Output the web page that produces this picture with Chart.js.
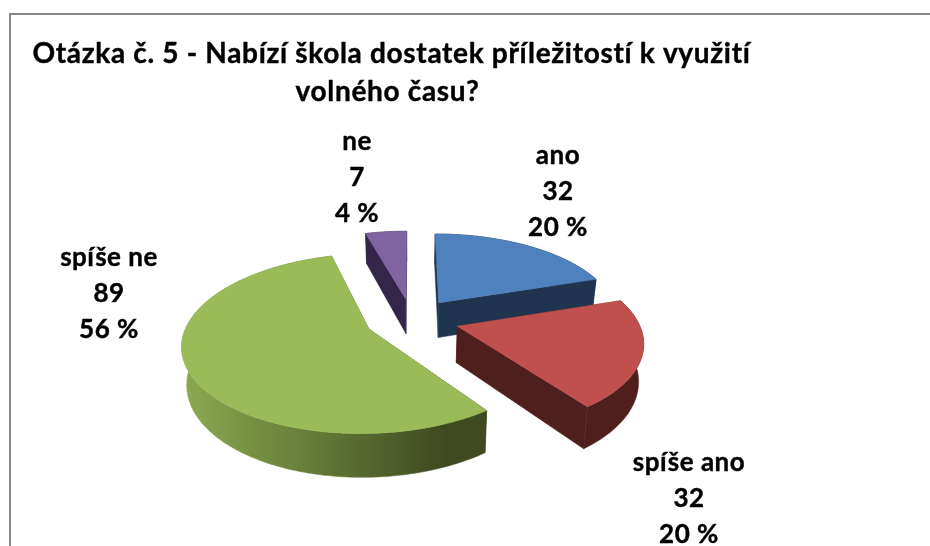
<!DOCTYPE html>
<html lang="cs">
<head>
<meta charset="utf-8">
<title>Otázka č. 5</title>
<script src="https://cdn.jsdelivr.net/npm/chart.js@4"></script>
<style>html,body{margin:0;padding:0;background:#fff}canvas{display:block}</style>
</head>
<body>
<canvas id="c" width="930" height="546"></canvas>
<script>
const categories = ['ano', 'spíše ano', 'spíše ne', 'ne'];
const values = [32, 32, 89, 7];
const colors = ['#4f81bd', '#c0504d', '#9bbb59', '#8064a2'];
const sideColors = ['#1f344f', '#4f1f1e', null, '#33264a'];
const titleLines = ['Otázka č. 5 - Nabízí škola dostatek příležitostí k využití', 'volného času?'];

const labelCenters = [[558, 156], [689, 463], [109, 258], [357, 142]];
const titleCenters = [[391.5, 54], [387.5, 92]];
const TILT = 0.457, PERSP = 0.00086, DEPTH = 36, TAPER = 0.022, LINE = 36, XSCALE = 0.975;
const FONT_T = 'bold 28px Lato, Carlito, "Open Sans", sans-serif';
const FONT_L = 'bold 26px Lato, Carlito, "Open Sans", sans-serif';

const total = values.reduce((a, b) => a + b, 0);

const pie3d = {
  id: 'pie3d',
  beforeDatasetDraw(chart) {
    const { ctx } = chart;
    const arcs = chart.getDatasetMeta(0).data;
    const order = [0, 3, 2, 1];

    ctx.save();
    ctx.fillStyle = '#868686';
    ctx.fillRect(9, 13, 921, 2);
    ctx.fillRect(9, 13, 2, 533);

    const sideGreen = ctx.createLinearGradient(187, 0, 445, 0);
    sideGreen.addColorStop(0, '#8aa850');
    sideGreen.addColorStop(1, '#3f4a20');

    order.forEach(i => {
      const a = arcs[i];
      const R = a.outerRadius, d = a.options.offset;
      const mid = (a.startAngle + a.endAngle) / 2 + Math.PI / 2;
      const ox = d * Math.sin(mid), oy = -d * Math.cos(mid);
      const project = (th, r, z) => {
        const X = ox + XSCALE * r * Math.sin(th), Y = oy - r * Math.cos(th);
        const w = 1 / (1 - PERSP * Y);
        return [a.x + X * w * (1 - TAPER * z), a.y + TILT * Y * w + DEPTH * z * w];
      };
      const t0 = a.startAngle + Math.PI / 2, t1 = a.endAngle + Math.PI / 2;
      const steps = Math.max(4, Math.round((t1 - t0) * 90));
      const rim = z => {
        const pts = [];
        for (let s = 0; s <= steps; s++) pts.push(project(t0 + (t1 - t0) * s / steps, R, z));
        return pts;
      };
      const poly = (pts, fill) => {
        ctx.beginPath();
        pts.forEach((p, k) => k ? ctx.lineTo(p[0], p[1]) : ctx.moveTo(p[0], p[1]));
        ctx.closePath();
        ctx.fillStyle = fill;
        ctx.strokeStyle = fill;
        ctx.lineWidth = 0.5;
        ctx.fill();
        ctx.stroke();
      };
      const top = rim(0), bot = rim(1);
      const side = sideColors[i] || sideGreen;
      const apexT = project(0, 0, 0), apexB = project(0, 0, 1);
      poly([apexT, top[0], bot[0], apexB], side);
      poly([apexT, top[steps], bot[steps], apexB], side);
      poly(top.concat(bot.slice().reverse()), side);
      poly([apexT].concat(top), a.options.backgroundColor);
    });

    ctx.fillStyle = '#000';
    ctx.strokeStyle = '#000';
    ctx.lineWidth = 0.4;
    ctx.textAlign = 'center';
    ctx.textBaseline = 'middle';
    const put = (t, x, y) => { ctx.fillText(t, x, y); ctx.strokeText(t, x, y); };
    ctx.font = FONT_T;
    ctx.letterSpacing = '0.68px';
    titleLines.forEach((t, k) => put(t, titleCenters[k][0], titleCenters[k][1]));
    ctx.font = FONT_L;
    ctx.letterSpacing = '0.5px';
    categories.forEach((name, i) => {
      const [x, y] = labelCenters[i];
      const lines = [name, String(values[i]), Math.round(values[i] / total * 100) + ' %'];
      lines.forEach((t, k) => put(t, x, y + k * LINE));
    });
    ctx.restore();
    return false;
  }
};

new Chart(document.getElementById('c'), {
  type: 'pie',
  data: {
    labels: categories,
    datasets: [{ data: values, backgroundColor: colors, borderWidth: 0, offset: 47, radius: 185 }]
  },
  options: {
    responsive: false,
    animation: false,
    layout: { padding: { left: 0, right: 106, top: 93, bottom: 0 } },
    plugins: { legend: { display: false }, tooltip: { enabled: false }, title: { display: false } }
  },
  plugins: [pie3d]
});
</script>
</body>
</html>
